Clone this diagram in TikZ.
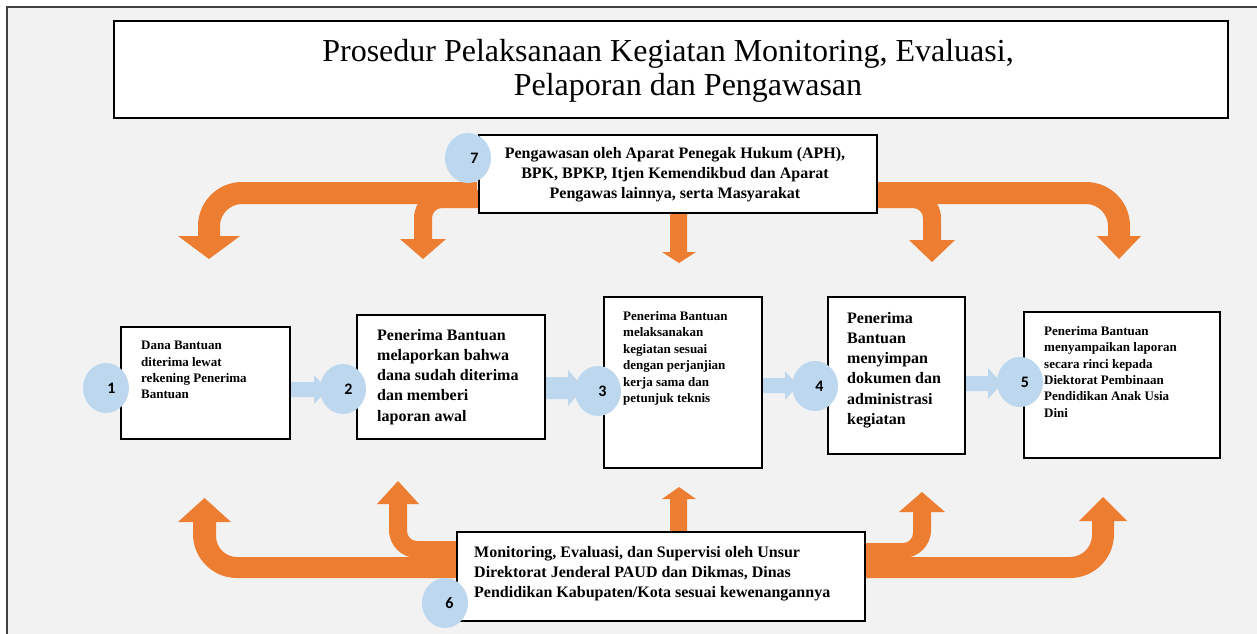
\documentclass[tikz,border=0pt]{standalone}
\usepackage{fontspec}
\setmainfont{Liberation Serif}
\newfontfamily\numfont{Carlito}
\usetikzlibrary{shapes.geometric}
\definecolor{orng}{HTML}{ED7D31}
\definecolor{lblue}{HTML}{BDD7EE}
\definecolor{bgc}{HTML}{F2F2F2}
\begin{document}
\begin{tikzpicture}[x=1pt,y=-1pt,
  box/.style={draw=black, line width=1.6pt, fill=white, inner sep=0pt, anchor=north west},
  num/.style={ellipse, fill=lblue, minimum width=46pt, minimum height=50pt, inner sep=0pt, font=\numfont\bfseries\fontsize{16}{18}\selectfont},
  smalltxt/.style={font=\bfseries\fontsize{13}{16.4}\selectfont, align=left, anchor=north west, inner sep=0pt},
  bigtxt/.style={font=\bfseries\fontsize{16}{20.2}\selectfont, align=left, anchor=north west, inner sep=0pt},
  orangearrow/.style={fill=orng},
  bluearrow/.style={fill=lblue}]
\useasboundingbox (0,0) rectangle (1257,633);
\fill[white] (0,0) rectangle (1257,633);
\fill[bgc] (7,7) rectangle (1262,640);
\draw[black!75, line width=2pt] (7,640) -- (7,7) -- (1262,7);

% title
\node[box, minimum width=1114pt, minimum height=97pt] (titlebox) at (113,20) {};
\node[font=\fontsize{32}{34}\selectfont, align=center, anchor=north, inner sep=0pt] (title) at (678,39) {Prosedur Pelaksanaan Kegiatan Monitoring, Evaluasi,\hspace*{20pt}\\\hspace*{20pt}Pelaporan dan Pengawasan};

% orange arrows (top)
\path[orangearrow] (477,182) -- (242,182) .. controls (217.7,182) and (198,201.7) .. (198,226) -- (198,236) -- (178,236) -- (209,259) -- (240,236) -- (220,236) -- (220,226) .. controls (220,214) and (230,204) .. (242,204) -- (477,204) -- cycle;
\path[orangearrow] (478,190) -- (442,190) .. controls (426.5,190) and (414,202.5) .. (414,218) -- (414,239) -- (400,239) -- (423,259) -- (446,239) -- (432,239) -- (432,218) .. controls (432,212.5) and (436.5,208) .. (442,208) -- (478,208) -- cycle;
\path[orangearrow] (670,212) -- (687,212) -- (687,252) -- (696,252) -- (679,263) -- (662,252) -- (670,252) -- cycle;
\path[orangearrow] (875,182) -- (1086,182) .. controls (1110.3,182) and (1130,201.7) .. (1130,226) -- (1130,236) -- (1141,236) -- (1119,259) -- (1097,236) -- (1108,236) -- (1108,226) .. controls (1108,214) and (1098,204) .. (1086,204) -- (875,204) -- cycle;
\path[orangearrow] (875,190) -- (913,190) .. controls (928.5,190) and (941,202.5) .. (941,218) -- (941,240) -- (955,240) -- (932,262) -- (909,240) -- (923,240) -- (923,218) .. controls (923,212.5) and (918.5,208) .. (913,208) -- (875,208) -- cycle;

% orange arrows (bottom)
\path[orangearrow] (457,578) -- (237,578) .. controls (212.7,578) and (193,558.3) .. (193,534) -- (193,522) -- (178,522) -- (204.5,498) -- (231,522) -- (216,522) -- (216,536) .. controls (216,547.6) and (225.4,557) .. (237,557) -- (457,557) -- cycle;
\path[orangearrow] (457,558) -- (417,558) .. controls (401.5,558) and (389,545.5) .. (389,530) -- (389,504) -- (377,504) -- (398,481) -- (419,504) -- (407,504) -- (407,531) .. controls (407,536.5) and (411.5,541) .. (417,541) -- (457,541) -- cycle;
\path[orangearrow] (670,532) -- (687,532) -- (687,499) -- (696,499) -- (679,487) -- (662,499) -- (670,499) -- cycle;
\path[orangearrow] (863,578) -- (1070,578) .. controls (1094.3,578) and (1114,558.3) .. (1114,534) -- (1114,521) -- (1127,521) -- (1103,497) -- (1079,521) -- (1092,521) -- (1092,535) .. controls (1092,547.2) and (1082.2,557) .. (1070,557) -- (863,557) -- cycle;
\path[orangearrow] (863,558) -- (903,558) .. controls (918.5,558) and (931,545.5) .. (931,530) -- (931,512) -- (945,512) -- (922,492) -- (899,512) -- (913,512) -- (913,533) .. controls (913,538.5) and (908.5,543) .. (903,543) -- (863,543) -- cycle;

% blue arrows
\path[bluearrow] (289,382) -- (314,382) -- (314,375) -- (328,389.5) -- (314,404) -- (314,397) -- (289,397) -- cycle;
\path[bluearrow] (544,377) -- (568,377) -- (568,370) -- (584,388) -- (568,406) -- (568,399) -- (544,399) -- cycle;
\path[bluearrow] (761,378) -- (785,378) -- (785,371) -- (798,385.5) -- (785,400) -- (785,393) -- (761,393) -- cycle;
\path[bluearrow] (964,376) -- (988,376) -- (988,368) -- (1002,383.5) -- (988,399) -- (988,391) -- (964,391) -- cycle;

% boxes
\node[box, minimum width=398pt, minimum height=78pt] (b7) at (478,134) {};
\node[box, minimum width=169pt, minimum height=112pt] (b1) at (120,326) {};
\node[box, minimum width=188pt, minimum height=124pt] (b2) at (356,314) {};
\node[box, minimum width=158pt, minimum height=171pt] (b3) at (603,296) {};
\node[box, minimum width=137pt, minimum height=157pt] (b4) at (827,296) {};
\node[box, minimum width=196pt, minimum height=146pt] (b5) at (1023,311) {};
\node[box, minimum width=408pt, minimum height=89pt] (b6) at (456,531) {};

% circles
\node[num] (c1) at (106,388) {\hspace*{11pt}1};
\node[num] (c2) at (343,389) {\hspace*{11pt}2};
\node[num] (c3) at (598,391) {\hspace*{9pt}3};
\node[num] (c4) at (815,386) {\hspace*{9pt}4};
\node[num] (c5) at (1020,382) {\hspace*{10pt}5};
\node[num] (c6) at (445,603) {\hspace*{9pt}6};
\node[num] (c7) at (468,158) {\hspace*{13pt}7};

% texts
\node[smalltxt] (t1) at (141,341) {Dana Bantuan\\diterima lewat\\rekening Penerima\\Bantuan};
\node[bigtxt] (t2) at (377,329) {Penerima Bantuan\\melaporkan bahwa\\dana sudah diterima\\dan memberi\\laporan awal};
\node[smalltxt, font=\bfseries\fontsize{13}{16.5}\selectfont] (t3) at (623,311) {Penerima Bantuan\\melaksanakan\\kegiatan sesuai\\dengan perjanjian\\kerja sama dan\\petunjuk teknis};
\node[bigtxt] (t4) at (847,312) {Penerima\\Bantuan\\menyimpan\\dokumen dan\\administrasi\\kegiatan};
\node[smalltxt] (t5) at (1044,326) {Penerima Bantuan\\menyampaikan laporan\\secara rinci kepada\\Diektorat Pembinaan\\Pendidikan Anak Usia\\Dini};
\node[font=\bfseries\fontsize{16}{20}\selectfont, align=center, anchor=north, inner sep=0pt] (t7) at (675,147) {Pengawasan oleh Aparat Penegak Hukum (APH),\\BPK, BPKP, Itjen Kemendikbud dan Aparat\\Pengawas lainnya, serta Masyarakat};
\node[font=\bfseries\fontsize{16}{20}\selectfont, align=left, anchor=north west, inner sep=0pt] (t6) at (474,546) {Monitoring, Evaluasi, dan Supervisi oleh Unsur\\Direktorat Jenderal PAUD dan Dikmas, Dinas\\Pendidikan Kabupaten/Kota sesuai kewenangannya};
\end{tikzpicture}
\end{document}
